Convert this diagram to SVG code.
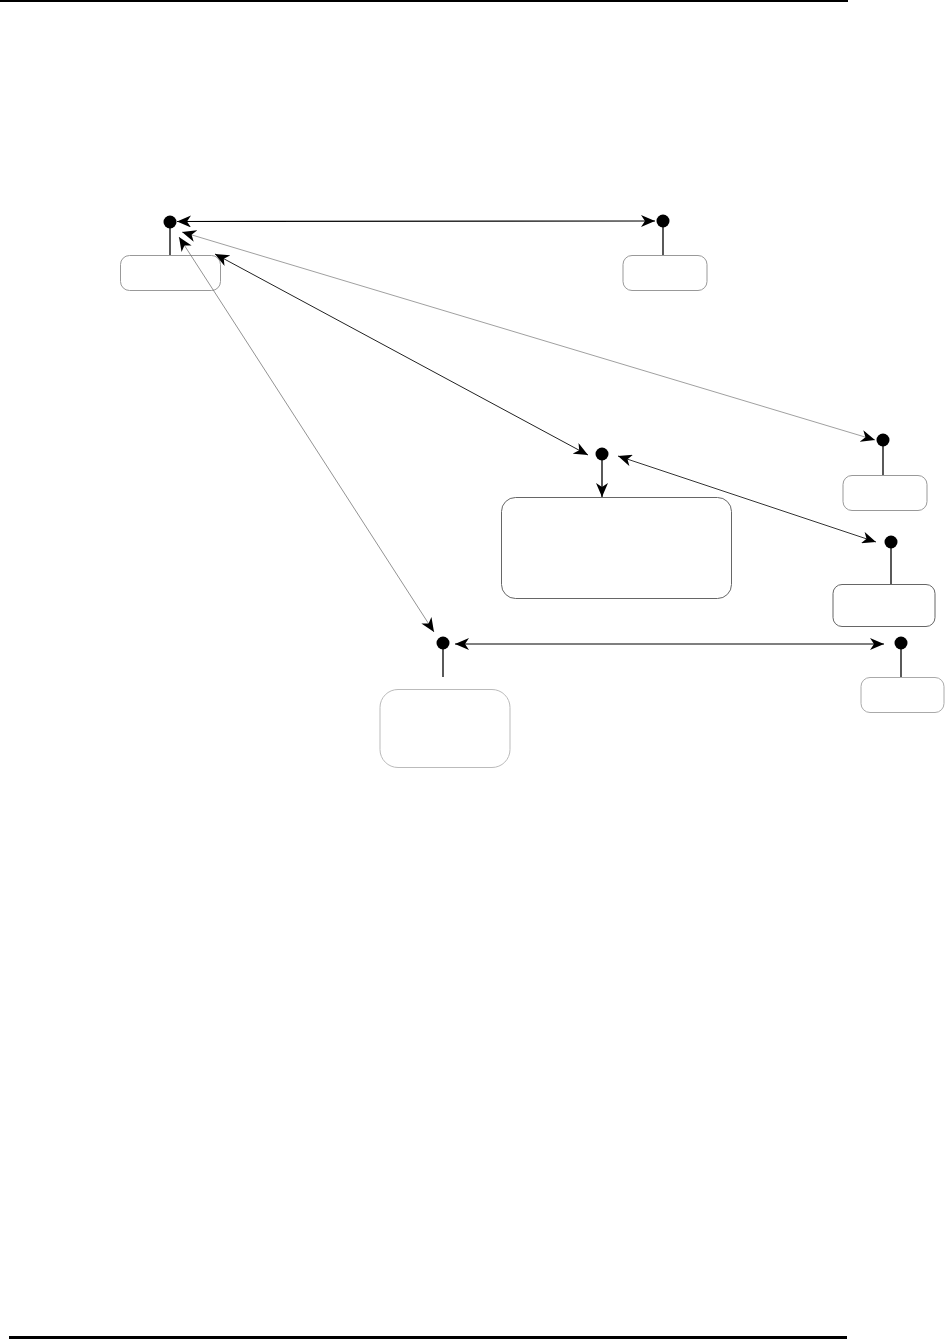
<svg xmlns="http://www.w3.org/2000/svg" width="946" height="1340" viewBox="0 0 946 1340">
<style>
.box{fill:#fff;stroke-width:1}
.dot{fill:#000}
.stem{stroke:#000;stroke-width:1.3}
.c{fill:none}
</style>
<defs>
<marker id="ah" markerUnits="userSpaceOnUse" markerWidth="15" markerHeight="12" refX="14" refY="6" orient="auto-start-reverse" viewBox="0 0 15 12">
<path d="M0,0 L14,6 L0,12 L4,6 z" fill="#000"/>
</marker>
</defs>
<rect x="0" y="0" width="848" height="2" fill="#000"/>
<rect x="9" y="1336" width="838" height="3" fill="#000"/>
<g id="n1"><rect class="box" x="120.5" y="255.5" width="100" height="35" rx="9" stroke="#999"/><line class="stem" x1="170" y1="222" x2="170" y2="255"/><circle class="dot" cx="170" cy="222" r="6.5"/></g>
<g id="n2"><rect class="box" x="623" y="255.5" width="84" height="35" rx="9" stroke="#999"/><line class="stem" x1="663" y1="221" x2="663" y2="255"/><circle class="dot" cx="663" cy="221" r="6.5"/></g>
<g id="n3"><rect class="box" x="843" y="475.5" width="84" height="35" rx="9" stroke="#999"/><line class="stem" x1="883" y1="440" x2="883" y2="475"/><circle class="dot" cx="883" cy="440" r="6.5"/></g>
<g id="n4"><rect class="box" x="501.5" y="497.5" width="230" height="101" rx="14" stroke="#666"/><circle class="dot" cx="602" cy="454" r="6.5"/></g>
<g id="n5"><rect class="box" x="833" y="584.5" width="102" height="42" rx="9" stroke="#666"/><line class="stem" x1="891" y1="542" x2="891" y2="584"/><circle class="dot" cx="891" cy="542" r="6.5"/></g>
<g id="n6"><rect class="box" x="861" y="677.5" width="83" height="35" rx="9" stroke="#aaa"/><line class="stem" x1="901" y1="643" x2="901" y2="677"/><circle class="dot" cx="901" cy="643" r="6.5"/></g>
<g id="n7"><rect class="box" x="380" y="689.5" width="130" height="78" rx="18" stroke="#bbb"/><line class="stem" x1="443" y1="643" x2="443" y2="677"/><circle class="dot" cx="443" cy="643" r="6.5"/></g>
<g id="connectors">
<line class="c" x1="177" y1="221.5" x2="655" y2="221" stroke="#000" stroke-width="1.2" marker-start="url(#ah)" marker-end="url(#ah)"/>
<line class="c" x1="182" y1="232" x2="875" y2="440" stroke="#888" stroke-width="0.8" marker-start="url(#ah)" marker-end="url(#ah)"/>
<line class="c" x1="215" y1="254" x2="588" y2="455" stroke="#222" stroke-width="1" marker-start="url(#ah)" marker-end="url(#ah)"/>
<line class="c" x1="179" y1="237" x2="434" y2="632" stroke="#777" stroke-width="0.8" marker-start="url(#ah)" marker-end="url(#ah)"/>
<line class="c" x1="618" y1="456" x2="876" y2="542" stroke="#333" stroke-width="1" marker-start="url(#ah)" marker-end="url(#ah)"/>
<line class="c" x1="455" y1="644" x2="884" y2="644" stroke="#000" stroke-width="1.2" marker-start="url(#ah)" marker-end="url(#ah)"/>
<line class="c" x1="602" y1="460" x2="602" y2="497" stroke="#000" stroke-width="1.3" marker-end="url(#ah)"/>
</g>
</svg>
